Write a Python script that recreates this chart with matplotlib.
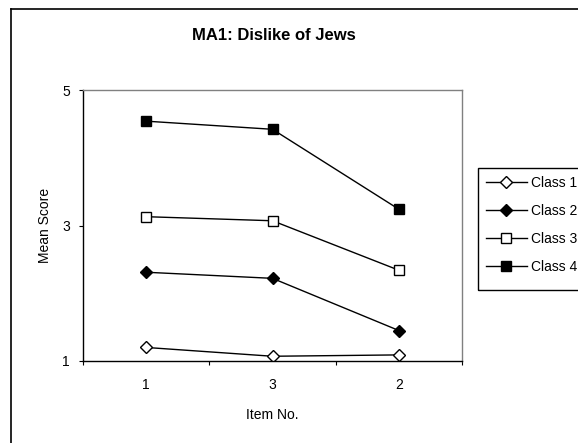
import matplotlib.pyplot as plt
from matplotlib.lines import Line2D
from matplotlib.patches import Rectangle
from matplotlib.ticker import FixedLocator, NullFormatter, FixedFormatter

plt.rcParams['font.family'] = ['Liberation Sans', 'DejaVu Sans']

# DATA
items = ['1', '3', '2']
class1 = [1.20, 1.07, 1.09]
class2 = [2.31, 2.22, 1.45]
class3 = [3.13, 3.07, 2.34]
class4 = [4.54, 4.42, 3.24]
labels = ['Class 1', 'Class 2', 'Class 3', 'Class 4']

W, H = 578, 443
fig = plt.figure(figsize=(W / 100, H / 100), dpi=100)
ax = fig.add_axes([83 / W, 1 - 361 / H, (462 - 83) / W, (361 - 90) / H])

x = [1, 2, 3]
styles = [('D', 'white'), ('D', 'black'), ('s', 'white'), ('s', 'black')]
series = [class1, class2, class3, class4]
for vals, (m, fc), lab in zip(series, styles, labels):
    ms = 6 if m == 'D' else 6.5
    ax.plot(x, vals, color='black', lw=1, marker=m, markersize=ms,
            markerfacecolor=fc, markeredgecolor='black', markeredgewidth=1,
            label=lab)

ax.set_xlim(0.5, 3.5)
ax.set_ylim(1, 5)
ax.set_yticks([1, 3, 5])
ax.tick_params(axis='y', direction='out', length=3, width=0.8, pad=6.5, labelsize=10)

# category boundaries carry the ticks, labels sit at centres
ax.xaxis.set_major_locator(FixedLocator([0.5, 1.5, 2.5, 3.5]))
ax.xaxis.set_major_formatter(NullFormatter())
ax.xaxis.set_minor_locator(FixedLocator(x))
ax.xaxis.set_minor_formatter(FixedFormatter(items))
ax.tick_params(axis='x', which='major', direction='out', length=3, width=0.8)
ax.tick_params(axis='x', which='minor', length=0, pad=12, labelsize=10)

for s in ['top', 'right']:
    ax.spines[s].set_color('#808080')
for s in ['left', 'bottom']:
    ax.spines[s].set_color('black')
for s in ax.spines.values():
    s.set_linewidth(1)

fig.text(45 / W, 1 - 225 / H, 'Mean Score', rotation=90, ha='center', va='center', fontsize=10)
fig.text(272 / W, 1 - 415 / H, 'Item No.', ha='center', va='center', fontsize=10)
fig.text(274 / W, 1 - 35 / H, 'MA1: Dislike of Jews', ha='center', va='center',
         fontsize=12, fontweight='bold')

leg = fig.legend(loc='upper left', bbox_to_anchor=(478 / W, 1 - 168 / H),
                 fontsize=10, frameon=False,
                 handlelength=2.9, handletextpad=0.35, labelspacing=1.0,
                 borderpad=0.6, borderaxespad=0)

# legend box drawn by hand (Excel leaves more room below the last entry)
fig.add_artist(Rectangle((478 / W, 1 - 290 / H), 130 / W, 122 / H, fill=False,
                         edgecolor='black', lw=1, transform=fig.transFigure))

# outer chart border (runs off the right and bottom edges)
fig.add_artist(Line2D([11 / W, 11 / W], [0, 1 - 9 / H], color='black', lw=1.2, transform=fig.transFigure))
fig.add_artist(Line2D([11 / W, 1], [1 - 9 / H, 1 - 9 / H], color='black', lw=1.2, transform=fig.transFigure))

fig.savefig('out.png', dpi=100)
